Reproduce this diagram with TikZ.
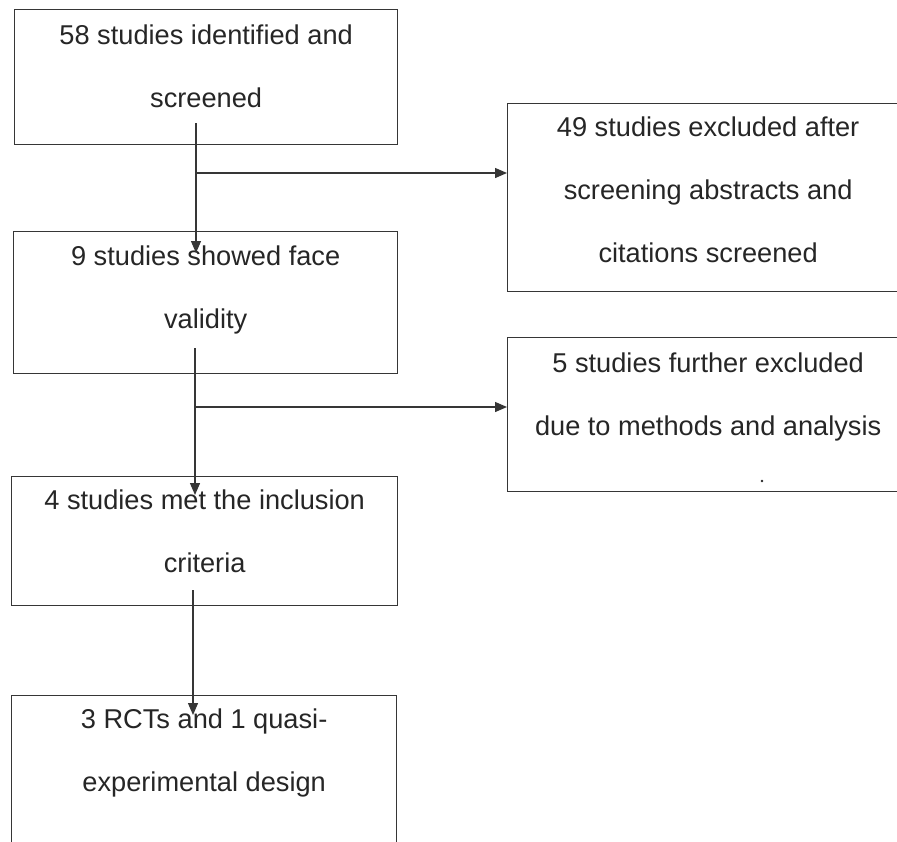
\documentclass[tikz,border=0pt]{standalone}
\usepackage{fontspec}
\setmainfont{Liberation Sans}
\usetikzlibrary{arrows.meta,calc}
\definecolor{ink}{HTML}{262626}
\definecolor{edgec}{HTML}{363636}
\begin{document}
\begin{tikzpicture}[x=1pt,y=-1pt,
  box/.style={draw=edgec, line width=1.3pt, rectangle, inner sep=0pt, anchor=north west},
  txt/.style={font=\fontsize{27.2}{63}\selectfont, text=ink, align=center, inner sep=0pt, anchor=north},
  conn/.style={draw=edgec, line width=1.3pt},
  arr/.style={conn, -{Triangle[length=12pt,width=10pt]}}]
\useasboundingbox (0,0) rectangle (897,841);
\clip (0,0) rectangle (897,841);
\fill[white] (0,0) rectangle (897,841);
% left column boxes
\node[box, minimum width=383pt, minimum height=135pt] (b1) at (14,9) {};
\node[box, minimum width=384pt, minimum height=142pt] (b2) at (13,231) {};
\node[box, minimum width=386pt, minimum height=129pt] (b3) at (11,476) {};
\node[box, minimum width=385pt, minimum height=200pt] (b4) at (11,695) {};
% right column boxes
\node[box, minimum width=401pt, minimum height=188pt] (r1) at (507,103) {};
\node[box, minimum width=401pt, minimum height=154pt] (r2) at (507,337) {};
% texts
\node[txt] (t1) at ($(b1.north)+(0,16)$) {58 studies identified and\\screened};
\node[txt] (t2) at ($(b2.north)+(0,15)$) {9 studies showed face\\validity};
\node[txt] (t3) at ($(b3.north)+(0,14)$) {4 studies met the inclusion\\criteria};
\node[txt] (t4) at ($(b4.north)+(0,14)$) {3 RCTs and 1 quasi-\\experimental design};
\node[txt] (tr1) at ($(r1.north)+(0,14)$) {49 studies excluded after\\screening abstracts and\\citations screened};
\node[txt] (tr2) at ($(r2.north)+(0,16)$) {5 studies further excluded\\due to methods and analysis};
\fill[ink] (762,481) circle (1.3pt);
% connectors
\coordinate (s1) at (196,123);
\coordinate (e1) at (196,253);
\coordinate (j1) at (196,173);
\draw[arr] (s1) -- (e1);
\draw[arr] (j1) -- (j1 -| r1.west);
\coordinate (s2) at (195,348);
\coordinate (e2) at (195,495);
\coordinate (j2) at (195,407);
\draw[arr] (s2) -- (e2);
\draw[arr] (j2) -- (j2 -| r2.west);
\coordinate (s3) at (193,590);
\coordinate (e3) at (193,715);
\draw[arr] (s3) -- (e3);
\end{tikzpicture}
\end{document}
